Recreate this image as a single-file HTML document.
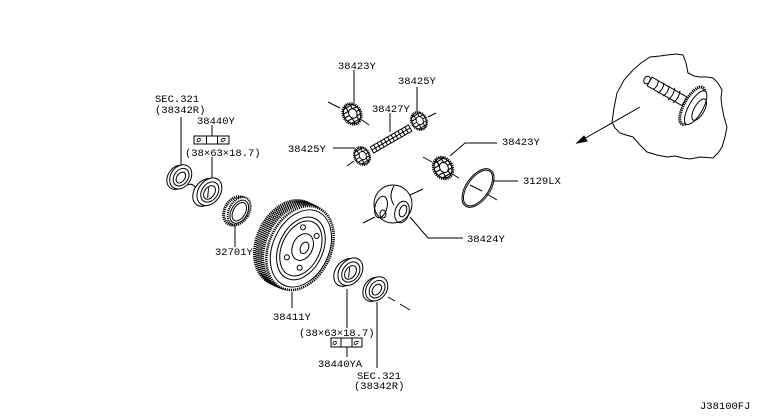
<!DOCTYPE html>
<html><head><meta charset="utf-8"><style>
html,body{margin:0;padding:0;background:#fff;}
svg{display:block;}
text{font-family:"Liberation Mono",monospace;font-size:10.5px;fill:#000;}
</style></head><body>
<svg width="768" height="417" viewBox="0 0 768 417" xmlns="http://www.w3.org/2000/svg">
<defs>
<g id="pin">
<ellipse rx="9" ry="11" fill="#fff" stroke-width="2.2" stroke-dasharray="1.2 0.8"/>
<ellipse rx="8" ry="10"/>
<path d="M-8,-4 h16 M-8,0 h16 M-7,4 h14 M-5,8 h10 M-6,-8 h12 M-2,-10 v20 M3,-10 v20" stroke-width="1.1"/>
<ellipse cx="1" cy="0" rx="4" ry="5" fill="#fff"/>
</g>
</defs>
<g fill="none" stroke="#000" stroke-width="1">

<!-- leader lines -->
<line x1="181" y1="117" x2="181" y2="165"/>
<line x1="212" y1="125" x2="212" y2="136"/>
<rect x="194" y="136" width="35" height="8"/>
<line x1="206.5" y1="136" x2="206.5" y2="144"/><line x1="217.5" y1="136" x2="217.5" y2="144"/>
<path d="M197,142 q0,-5 4,-3 M198,142 l3,-2 M221,142 q0,-5 5,-3 M222,142 l3,-2" stroke-width="0.8"/>
<line x1="212" y1="157" x2="212" y2="178"/>
<line x1="235" y1="226" x2="235" y2="247"/>
<line x1="354" y1="70" x2="354" y2="103"/>
<line x1="417" y1="87" x2="417" y2="112"/>
<line x1="390" y1="113" x2="390" y2="132"/>
<line x1="333" y1="148" x2="355" y2="148"/>
<polyline points="497,143 465,143 450,156"/>
<line x1="493" y1="181" x2="518" y2="181"/>
<polyline points="410,217 428,238 463,238"/>
<line x1="292" y1="292" x2="292" y2="308"/>
<line x1="347" y1="289" x2="347" y2="328"/>
<rect x="331" y="338" width="31" height="9"/>
<line x1="341" y1="338" x2="341" y2="347"/><line x1="352" y1="338" x2="352" y2="347"/>
<path d="M333,345 q0,-5 4,-3 M334,345 l3,-2 M354,345 q0,-5 5,-3 M355,345 l3,-2" stroke-width="0.8"/>
<line x1="347" y1="347" x2="347" y2="357"/>
<line x1="377" y1="302" x2="377" y2="368"/>

<!-- dash center lines -->
<line x1="328" y1="102" x2="340" y2="108"/>
<line x1="362" y1="120" x2="369" y2="125"/>
<line x1="428" y1="117" x2="436" y2="113"/>
<line x1="347" y1="166" x2="354" y2="161"/>
<line x1="423" y1="157" x2="432" y2="162"/>
<line x1="450" y1="173" x2="459" y2="178"/>
<line x1="470" y1="185" x2="482" y2="191"/>
<line x1="487" y1="194" x2="497" y2="200"/>
<line x1="363" y1="223" x2="375" y2="217"/>
<line x1="410" y1="195" x2="423" y2="189"/>
<line x1="388" y1="297" x2="395" y2="301"/>
<line x1="400" y1="304" x2="410" y2="310"/>
<path d="M188,185 q3,-2 6,1 q2,2 6,0"/>

<!-- seal 1 -->
<g transform="translate(180,177) rotate(35)">
<ellipse cx="-1.5" cy="1.5" rx="10" ry="13" fill="#fff"/>
<ellipse cx="0.5" cy="-0.5" rx="10" ry="13" fill="#fff"/>
<ellipse cx="1" cy="-0.5" rx="7" ry="9.5"/>
<ellipse cx="1" cy="0" rx="4" ry="6"/>
</g>
<!-- bearing 2 -->
<g transform="translate(208,192) rotate(35)">
<ellipse cx="-2" cy="2" rx="11" ry="15" fill="#fff"/>
<ellipse cx="1" cy="-1" rx="11" ry="15" fill="#fff"/>
<ellipse cx="1.5" cy="-1" rx="8" ry="11"/>
<ellipse cx="1.5" cy="-0.5" rx="5" ry="7.5"/>
<line x1="-2" y1="-4" x2="3" y2="5"/>
</g>
<!-- gear 32701Y -->
<g transform="translate(238,211) rotate(30)">
<ellipse cx="-2" cy="1" rx="11" ry="15" fill="#fff" stroke-width="3" stroke-dasharray="1.2 0.8"/>
<ellipse cx="1" cy="-0.5" rx="10" ry="15" fill="#fff" stroke-width="2" stroke-dasharray="1.2 0.8"/>
<ellipse cx="1.5" cy="0" rx="8" ry="12.5"/>
<ellipse cx="1.5" cy="0" rx="6" ry="10"/>
</g>

<!-- big ring gear -->
<g transform="translate(300,248) rotate(25)">
<ellipse cx="-38" cy="0" rx="5" ry="13" fill="#fff"/>
<line x1="-38" y1="-13" x2="-14" y2="-20"/>
<line x1="-38" y1="13" x2="-14" y2="20"/>
<ellipse cx="-32" cy="0" rx="5" ry="14" fill="#fff"/>
<ellipse cx="-13" cy="0" rx="31" ry="44" fill="#fff" stroke-width="3" stroke-dasharray="1.2 0.8"/>
<ellipse cx="-10" cy="0" rx="31" ry="44" fill="#fff" stroke-width="3" stroke-dasharray="1.2 0.8"/>
<ellipse cx="-7" cy="0" rx="31" ry="44" fill="#fff" stroke-width="3" stroke-dasharray="1.2 0.8"/>
<ellipse cx="-4" cy="0" rx="31" ry="44" fill="#fff" stroke-width="3" stroke-dasharray="1.2 0.8"/>
<ellipse cx="0" cy="0" rx="31" ry="44" fill="#fff" stroke-width="2.5" stroke-dasharray="1.2 0.9"/>
<ellipse cx="1" cy="0" rx="28" ry="40.5" fill="#fff"/>
<ellipse cx="1" cy="0" rx="22" ry="33"/>
<ellipse cx="1" cy="0" rx="19" ry="29"/>
<ellipse cx="2" cy="-2" rx="10" ry="14"/>
<ellipse cx="4" cy="-2" rx="4" ry="6"/>
<circle cx="-6" cy="-20" r="2.5"/>
<circle cx="10" cy="-18" r="2.5"/>
<circle cx="-8" cy="14" r="2.5"/>
<circle cx="8" cy="18" r="2.5"/>
</g>

<!-- bearing 3 -->
<g transform="translate(349,272) rotate(35)">
<ellipse cx="-2" cy="2" rx="11" ry="15" fill="#fff"/>
<ellipse cx="1" cy="-1" rx="11" ry="15" fill="#fff"/>
<ellipse cx="1.5" cy="-1" rx="8" ry="11"/>
<ellipse cx="1.5" cy="-0.5" rx="5" ry="7.5"/>
<line x1="-2" y1="-4" x2="3" y2="5"/>
</g>
<!-- seal 4 -->
<g transform="translate(376,289) rotate(35)">
<ellipse cx="-1.5" cy="1.5" rx="10" ry="13" fill="#fff"/>
<ellipse cx="0.5" cy="-0.5" rx="10" ry="13" fill="#fff"/>
<ellipse cx="1" cy="-0.5" rx="7" ry="9.5"/>
<ellipse cx="1" cy="0" rx="4" ry="6"/>
</g>

<!-- pinion shaft -->
<g transform="translate(372,150) rotate(-30)">
<rect x="0" y="-3.5" width="44" height="7" fill="#fff"/>
<path d="M4,-3.5v7M8,-3.5v7M12,-3.5v7M16,-3.5v7M20,-3.5v7M24,-3.5v7M28,-3.5v7M32,-3.5v7M36,-3.5v7M40,-3.5v7"/>
<line x1="0" y1="0" x2="44" y2="0"/>
</g>
<!-- pinion gears -->
<use href="#pin" transform="translate(352,114) rotate(-30)"/>
<use href="#pin" transform="translate(419,121) rotate(-30) scale(0.85)"/>
<use href="#pin" transform="translate(362,156) rotate(-30) scale(0.85)"/>
<use href="#pin" transform="translate(443,168) rotate(-30) scale(1.05)"/>

<!-- diff case -->
<circle cx="393" cy="204" r="19" fill="#fff"/>
<ellipse cx="381" cy="207" rx="6" ry="11" transform="rotate(15 381 207)"/>
<ellipse cx="383" cy="214" rx="3" ry="4"/>
<ellipse cx="402" cy="212" rx="7" ry="11" transform="rotate(15 402 212)"/>
<ellipse cx="403" cy="211" rx="3.5" ry="6" transform="rotate(20 403 211)"/>
<path d="M394,186 q-6,10 0,19"/>

<!-- ring 3129LX -->
<ellipse cx="478" cy="188" rx="12" ry="22" transform="rotate(35 478 188)"/>
<ellipse cx="478" cy="188" rx="10.5" ry="20.5" transform="rotate(35 478 188)"/>

<!-- inset blob -->
<path d="M612,122 L614,108 L617,93 L624,80 L633,70 L641,63 L650,57 L660,56 L667,55 L676,54 L683,55 L686,63 L688,73 L694,76 L700,77 L707,77 L713,78 L718,83 L722,90 L721,98 L722,107 L724,117 L727,127 L725,137 L722,147 L718,153 L713,158 L700,157 L690,159 L683,158 L675,156 L667,157 L657,155 L647,152 L640,145 L633,137 L626,135 L620,133 L615,128 Z"/>
<line x1="640" y1="107" x2="582" y2="140"/>
<polygon points="577,143 584,136 587,141" fill="#000"/>
<g transform="translate(647,80) rotate(29.6)">
<ellipse cx="0" cy="0" rx="3" ry="4" fill="#fff"/>
<rect x="3" y="-5" width="40" height="10" fill="#fff"/>
<path d="M10,-5 q3,5 0,10M16,-6 q3,6 0,12M22,-6 q3,6 0,12M28,-7 q3,7 0,14M34,-7 q3,7 0,14"/>
<ellipse cx="52" cy="0" rx="8" ry="21" fill="#fff" stroke-width="3" stroke-dasharray="1.2 0.8"/>
<ellipse cx="56" cy="0" rx="7" ry="19" fill="#fff"/>
<ellipse cx="60" cy="0" rx="5" ry="12"/>
</g>
</g>

<!-- labels -->
<text x="155" y="102">SEC.321</text>
<text x="155" y="113">(38342R)</text>
<text x="197" y="124">38440Y</text>
<text x="185" y="156">(38×63×18.7)</text>
<text x="215" y="255">32701Y</text>
<text x="338" y="69">38423Y</text>
<text x="398" y="84">38425Y</text>
<text x="372" y="112">38427Y</text>
<text x="288" y="152">38425Y</text>
<text x="502" y="145">38423Y</text>
<text x="523" y="184">3129LX</text>
<text x="467" y="242">38424Y</text>
<text x="273" y="320">38411Y</text>
<text x="299" y="336">(38×63×18.7)</text>
<text x="318" y="367">38440YA</text>
<text x="357" y="379">SEC.321</text>
<text x="354" y="389">(38342R)</text>
<text x="700" y="409">J38100FJ</text>
</svg>
</body></html>
